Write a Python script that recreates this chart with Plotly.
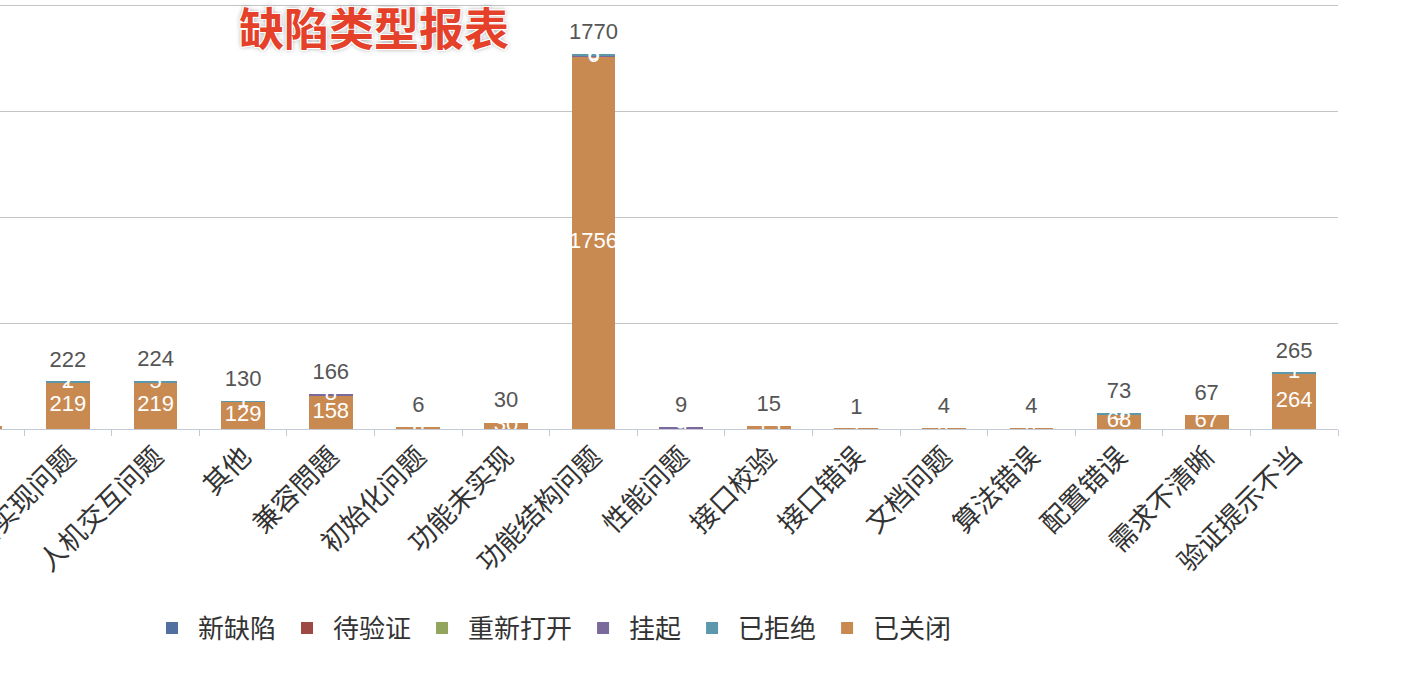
import plotly.graph_objects as go

categories = ["界面显示问题", "界面实现问题", "人机交互问题", "其他", "兼容問題", "初始化问题",
              "功能未实现", "功能结构问题", "性能问题", "接口校验", "接口错误", "文档问题",
              "算法错误", "配置错误", "需求不清晰", "验证提示不当"]

closed_vals   = [12, 219, 219, 129, 158, 6, 30, 1756, 0, 15, 1, 4, 4, 68, 67, 264]
new_vals      = [0] * 16
pending_vals  = [0] * 16
reopen_vals   = [0, 1, 0, 0, 0, 0, 0, 0, 0, 0, 0, 0, 0, 0, 0, 0]
hang_vals     = [0, 0, 0, 0, 8, 0, 0, 6, 9, 0, 0, 0, 0, 0, 0, 0]
rejected_vals = [0, 2, 5, 1, 0, 0, 0, 8, 0, 0, 0, 0, 0, 5, 0, 1]

# stacking order (bottom -> top), legend rank, colour
series = [
    ("已关闭", closed_vals, "#c98a52", 6),
    ("新缺陷", new_vals, "#5170a1", 1),
    ("待验证", pending_vals, "#9e4944", 2),
    ("重新打开", reopen_vals, "#93a55d", 3),
    ("挂起", hang_vals, "#7a6a9c", 4),
    ("已拒绝", rejected_vals, "#5b98ab", 5),
]

FONT = "Helvetica, Liberation Sans, Noto Sans CJK SC, sans-serif"

fig = go.Figure()
cum = [0] * len(categories)
label_traces = []
for name, vals, color, rank in series:
    fig.add_trace(go.Bar(x=categories, y=vals, name=name, marker=dict(color=color, line=dict(width=0)),
                         legendrank=rank, hoverinfo="skip"))
    centers = [c + v / 2 for c, v in zip(cum, vals)]
    texts = [str(v) if v > 0 else "" for v in vals]
    label_traces.append(go.Scatter(x=categories, y=centers, text=texts, mode="text",
                                   textfont=dict(color="white", size=22, family=FONT),
                                   showlegend=False, hoverinfo="skip", cliponaxis=False))
    cum = [c + v for c, v in zip(cum, vals)]

for t in label_traces:
    fig.add_trace(t)

totals = cum
fig.add_trace(go.Scatter(x=categories, y=totals, text=[str(t) for t in totals],
                         mode="markers+text", textposition="top center",
                         marker=dict(size=14, color="rgba(0,0,0,0)"),
                         textfont=dict(color="#555555", size=22, family=FONT),
                         showlegend=False, hoverinfo="skip", cliponaxis=False))

unit = 1338 / 15.2727
px_per_val = (429 - 5) / 2000
ytop = 429 / px_per_val
fig.update_layout(
    width=1412, height=692,
    margin=dict(l=0, r=1412 - 1338, t=0, b=692 - 429, autoexpand=False),
    paper_bgcolor="white", plot_bgcolor="white",
    barmode="stack", bargap=0.5,
    font=dict(family=FONT, color="#333333"),
    title=dict(text="缺陷类型报表", x=374 / 1412, xanchor="center", xref="container",
               y=1 - 30 / 692, yanchor="middle", yref="container", automargin=False,
               font=dict(size=45, color="#e5412a", weight="bold",
                         family="Noto Sans CJK SC, sans-serif",
                         shadow="-1px -1px 0 #fff, 1px -1px 0 #fff, -1px 1px 0 #fff, 1px 1px 0 #fff, 0px 0px 5px #888")),
    legend=dict(orientation="h", x=146 / 1338, xanchor="left", y=(429 - 628) / 429, yanchor="middle",
                font=dict(size=26, color="#333333"), itemwidth=42, traceorder="normal"),
    showlegend=True,
)
fig.update_xaxes(range=[1 - 68 / unit, 15.5], showgrid=False, showline=True, linecolor="#c3cad6", linewidth=1,
                 ticks="outside", tickson="boundaries", ticklen=6, tickcolor="#c3cad6",
                 tickangle=-45, tickfont=dict(size=27, color="#333333"), ticklabelstandoff=0,
                 automargin=False, fixedrange=True)
fig.update_yaxes(range=[0, ytop], tickvals=[0, 500, 1000, 1500, 2000], showgrid=True, gridcolor="#c4c4c4",
                 gridwidth=1.3, showticklabels=False, zeroline=False, showline=False, automargin=False,
                 fixedrange=True)

fig.write_html("out.html", post_script="document.body.style.margin='0';",
               config={"displayModeBar": False})
